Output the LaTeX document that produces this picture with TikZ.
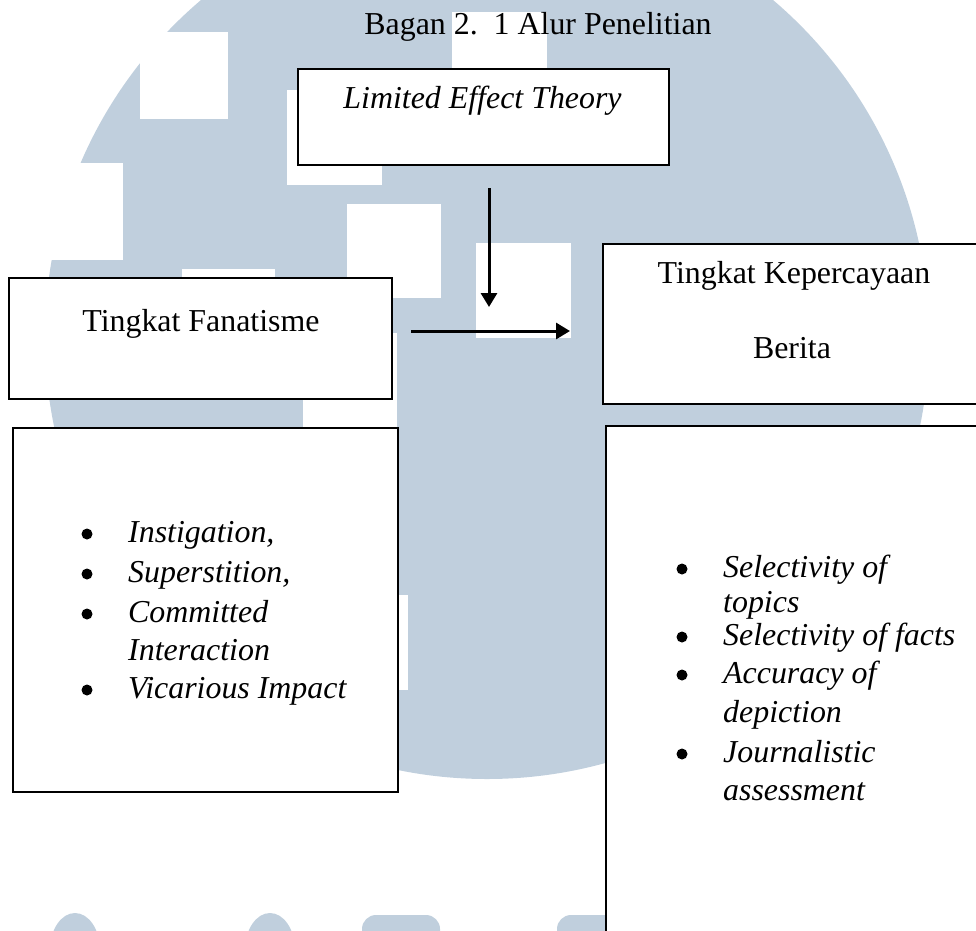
\documentclass[tikz,border=0pt]{standalone}
\usepackage{fontspec}
\setmainfont{Liberation Serif}
\usetikzlibrary{arrows.meta}
\definecolor{wm}{RGB}{192,207,221}
\newcommand\bigfs{\fontsize{31.9}{39}\selectfont}
\begin{document}
\begin{tikzpicture}[x=1pt,y=-1pt,
  box/.style={draw=black,line width=2pt,fill=white,inner sep=0pt,anchor=north west},
  arr/.style={line width=3pt,-{Triangle[length=14pt,width=16pt]}},
  ctxt/.style={inner sep=0pt,anchor=base,font=\bigfs},
  ltxt/.style={inner sep=0pt,anchor=base west,font=\bigfs\itshape},
  wmw/.style={fill=white},
  dot/.style={fill=black}]
\path[use as bounding box] (0,0) rectangle (976,930);
\clip (0,0) rectangle (976,930);
% watermark
\fill[wm] (487,337) circle (442pt);
\fill[wmw] (0,163) rectangle (123,260);
\fill[wmw] (140,32) rectangle (228,119);
\fill[wmw] (287,90) rectangle (382,185);
\fill[wmw] (347,204) rectangle (441,298);
\fill[wmw] (476,243) rectangle (571,338);
\fill[wmw] (452,12) rectangle (547,107);
\fill[wmw] (182,269) rectangle (275,364);
\fill[wmw] (303,333) rectangle (397,427);
\fill[wmw] (314,595) rectangle (408,690);
\fill[wm] (75,950) ellipse (25pt and 37pt);
\fill[wm] (270,950) ellipse (25pt and 37pt);
\fill[wm,rounded corners=14pt] (362,915) rectangle (440,960);
\fill[wm,rounded corners=14pt] (557,915) rectangle (640,960);
% title
\node[ctxt] (title) at (538,34) {Bagan 2.\ \ 1 Alur Penelitian};
% boxes
\node[box,minimum width=371pt,minimum height=96pt] (lim) at (297,68) {};
\node[box,minimum width=383pt,minimum height=121pt] (fan) at (8,277) {};
\node[box,minimum width=400pt,minimum height=160pt] (kep) at (602,243) {};
\node[box,minimum width=385pt,minimum height=364pt] (inda) at (12,427) {};
\node[box,minimum width=400pt,minimum height=560pt] (indb) at (605,425) {};
% box texts
\node[ctxt,font=\bigfs\itshape] (limt) at (482.5,108) {Limited Effect Theory};
\node[ctxt] (fant) at (201,331) {Tingkat Fanatisme};
\node[ctxt] (kept) at (794,283) {Tingkat Kepercayaan};
\node[ctxt] (kept2) at (792,358) {Berita};
% arrows
\coordinate (d1) at (489,188);
\coordinate (d2) at (489,307);
\coordinate (r1) at (411,331);
\coordinate (r2) at (570,331);
\draw[arr] (d1) -- (d2);
\draw[arr] (r1) -- (r2);
% left list
\fill[dot] (87,534) circle (5.5pt);
\fill[dot] (87,574) circle (5.5pt);
\fill[dot] (87,614) circle (5.5pt);
\fill[dot] (87,690) circle (5.5pt);
\node[ltxt] (a1) at (128,542) {Instigation,};
\node[ltxt] (a2) at (128,582) {Superstition,};
\node[ltxt] (a3) at (128,622) {Committed};
\node[ltxt] (a4) at (128,660) {Interaction};
\node[ltxt] (a5) at (128,698) {Vicarious Impact};
% right list
\fill[dot] (682,569) circle (5.5pt);
\fill[dot] (682,637) circle (5.5pt);
\fill[dot] (682,675) circle (5.5pt);
\fill[dot] (682,754) circle (5.5pt);
\node[ltxt] (b1) at (723,577) {Selectivity of};
\node[ltxt] (b2) at (723,612) {topics};
\node[ltxt] (b3) at (723,645) {Selectivity of facts};
\node[ltxt] (b4) at (723,683) {Accuracy of};
\node[ltxt] (b5) at (723,722) {depiction};
\node[ltxt] (b6) at (723,762) {Journalistic};
\node[ltxt] (b7) at (723,800) {assessment};
\end{tikzpicture}
\end{document}
